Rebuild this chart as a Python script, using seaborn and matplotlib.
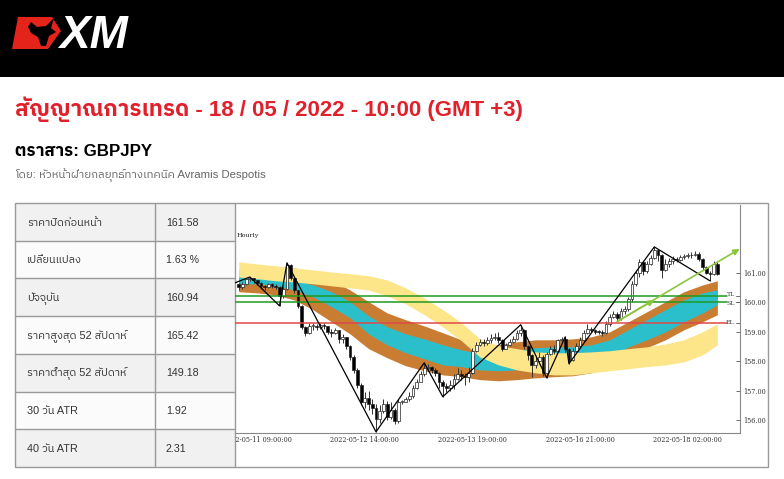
import numpy as np
import seaborn as sns
import matplotlib.pyplot as plt
from matplotlib import font_manager
from matplotlib.ft2font import FT2Font
from matplotlib.patches import Rectangle, Polygon
from matplotlib.transforms import Bbox, TransformedBbox

sns.set_theme(style="white")


# find an installed family that can draw Thai
def thai_family():
    found = []
    for f in font_manager.fontManager.ttflist:
        try:
            if FT2Font(f.fname).get_char_index(ord("ส")):
                found.append(f.name)
        except Exception:
            continue
    for name in found:
        if "Thai" in name and "Serif" not in name:
            return name
    return found[0] if found else None


thai = thai_family()
families = ["Liberation Sans"] + ([thai] if thai else []) + ["DejaVu Sans"]
plt.rcParams["font.family"] = families

# ---- text content ----
title = "สัญญาณการเทรด - 18 / 05 / 2022 - 10:00 (GMT +3)"
instrument = "ตราสาร: GBPJPY"
author = "โดย: หัวหน้าฝ่ายกลยุทธ์ทางเทคนิค Avramis Despotis"
row_labels = ["ราคาปิดก่อนหน้า", "เปลี่ยนแปลง", "ปัจจุบัน", "ราคาสูงสุด 52 สัปดาห์",
              "ราคาต่ำสุด 52 สัปดาห์", "30 วัน ATR", "40 วัน ATR"]
row_values = ["161.58", "1.63 %", "160.94", "165.42", "149.18", "1.92", "2.31"]

# ---- hourly candles (bar index 0..129) ----
first_open = 160.62
close = [160.50, 160.62, 160.78, 160.80, 160.74, 160.66, 160.55, 160.50, 160.62, 160.55,
         160.52, 160.22, 160.45, 161.25, 160.80, 160.40, 159.85, 159.15, 158.95, 159.20,
         159.20, 159.15, 159.22, 159.18, 159.00, 158.95, 159.05, 158.75, 158.80, 158.50,
         158.15, 157.70, 157.20, 156.60, 156.75, 156.55, 156.40, 156.05, 156.30, 156.55,
         156.10, 156.35, 155.95, 156.60, 156.62, 156.70, 156.80, 157.10, 157.30, 157.55,
         157.75, 157.80, 157.70, 157.60, 157.30, 157.15, 157.10, 157.20, 157.40, 157.55,
         157.50, 157.45, 157.60, 158.35, 158.55, 158.65, 158.60, 158.70, 158.78, 158.82,
         158.70, 158.42, 158.55, 158.65, 158.75, 158.95, 159.05, 158.50, 158.20, 157.85,
         158.00, 158.15, 157.60, 158.25, 158.40, 158.35, 158.70, 158.75, 158.40, 158.05,
         158.35, 158.50, 158.70, 158.95, 159.10, 159.05, 159.00, 158.98, 158.95, 159.25,
         159.50, 159.60, 159.45, 159.70, 159.75, 160.10, 160.60, 161.00, 161.35, 161.05,
         161.30, 161.50, 161.75, 161.60, 161.10, 161.30, 161.40, 161.45, 161.42, 161.52,
         161.55, 161.58, 161.60, 161.62, 161.45, 161.20, 161.00, 160.95, 161.30, 160.94]
high = [160.65, 160.68, 160.82, 160.85, 160.82, 160.76, 160.68, 160.58, 160.66, 160.66,
        160.62, 160.55, 160.50, 161.33, 161.30, 160.85, 160.40, 159.90, 159.20, 159.30,
        159.28, 159.25, 159.30, 159.28, 159.20, 159.10, 159.12, 159.05, 158.90, 158.82,
        158.55, 158.20, 157.75, 157.25, 156.95, 157.00, 156.70, 156.55, 156.50, 156.70,
        156.65, 156.60, 156.40, 156.70, 156.68, 156.78, 156.95, 157.20, 157.40, 157.65,
        157.94, 157.90, 157.82, 157.75, 157.62, 157.35, 157.25, 157.35, 157.55, 157.75,
        157.70, 157.60, 157.80, 158.45, 158.65, 158.75, 158.75, 158.80, 158.90, 158.95,
        159.00, 158.75, 158.62, 158.75, 158.85, 159.05, 159.23, 159.10, 158.55, 158.25,
        158.15, 158.30, 158.20, 158.30, 158.50, 158.55, 158.75, 158.80, 158.82, 158.45,
        158.45, 158.60, 158.80, 159.05, 159.25, 159.15, 159.08, 159.05, 159.05, 159.35,
        159.60, 159.70, 159.65, 159.80, 159.85, 160.18, 160.70, 161.10, 161.45, 161.40,
        161.38, 161.58, 161.87, 161.80, 161.62, 161.45, 161.50, 161.55, 161.52, 161.60,
        161.62, 161.65, 161.70, 161.72, 161.68, 161.48, 161.22, 161.05, 161.38, 161.40]
low = [160.40, 160.45, 160.58, 160.70, 160.66, 160.58, 160.45, 160.42, 160.46, 160.48,
       160.45, 159.87, 160.15, 160.40, 160.75, 160.30, 159.80, 159.10, 158.85, 158.90,
       159.05, 159.05, 159.10, 159.08, 158.90, 158.82, 158.90, 158.60, 158.62, 158.40,
       158.05, 157.60, 157.10, 156.50, 156.40, 156.35, 156.20, 155.60, 155.90, 156.25,
       156.00, 156.05, 155.85, 155.90, 156.55, 156.60, 156.65, 156.75, 157.05, 157.35,
       157.50, 157.65, 157.60, 157.50, 157.10, 156.79, 156.95, 157.00, 157.05, 157.35,
       157.35, 157.20, 157.30, 157.55, 158.30, 158.50, 158.50, 158.55, 158.60, 158.70,
       158.62, 158.35, 158.40, 158.50, 158.60, 158.70, 158.85, 158.40, 158.05, 157.45,
       157.75, 157.90, 157.50, 157.43, 158.20, 158.25, 158.30, 158.60, 158.30, 157.91,
       158.00, 158.30, 158.45, 158.65, 158.90, 158.98, 158.92, 158.90, 158.85, 158.90,
       159.20, 159.45, 159.35, 159.40, 159.60, 159.70, 160.00, 160.55, 160.85, 160.90,
       161.00, 161.25, 161.45, 161.40, 160.82, 161.05, 161.20, 161.30, 161.35, 161.40,
       161.45, 161.50, 161.50, 161.55, 161.40, 161.10, 160.95, 160.72, 160.90, 160.90]

# ---- bands, sampled every 5 bars ----
band_bar = [0, 5, 10, 15, 20, 25, 30, 35, 40, 45, 50, 55, 60, 65, 70, 75, 80, 85, 90,
            95, 100, 105, 110, 115, 120, 125, 129]
yellow_top = [161.36, 161.29, 161.23, 161.16, 161.09, 161.02, 160.96, 160.89, 160.75,
              160.48, 160.14, 159.74, 159.30, 158.75, 158.52, 158.42, 158.31, 158.28,
              158.28, 158.31, 158.35, 158.42, 158.48, 158.58, 158.72, 158.99, 159.26]
yellow_bot = [160.85, 160.79, 160.72, 160.68, 160.62, 160.55, 160.48, 160.41, 160.21,
              159.94, 159.57, 159.16, 158.69, 158.14, 157.87, 157.70, 157.60, 157.53,
              157.53, 157.60, 157.67, 157.74, 157.81, 157.87, 157.97, 158.21, 158.55]
brown_top = [161.09, 161.09, 161.16, 161.16, 161.02, 160.75, 160.41, 160.01, 159.63,
             159.40, 159.19, 158.96, 158.72, 158.58, 158.55, 158.65, 158.72, 158.72,
             158.75, 158.82, 158.99, 159.33, 159.67, 160.01, 160.35, 160.58, 160.72]
cyan_top = [160.85, 160.89, 160.85, 160.75, 160.58, 160.35, 160.01, 159.53, 159.16,
            158.92, 158.75, 158.55, 158.38, 158.25, 158.18, 158.35, 158.45, 158.48,
            158.48, 158.55, 158.72, 159.06, 159.40, 159.74, 160.07, 160.31, 160.41]
cyan_bot = [160.62, 160.62, 160.55, 160.41, 160.18, 159.84, 159.47, 158.92, 158.55,
            158.28, 158.08, 157.87, 157.81, 157.70, 157.67, 157.70, 157.77, 157.81,
            157.84, 157.94, 158.11, 158.48, 158.72, 158.99, 159.33, 159.63, 159.91]
brown_bot = [160.35, 160.31, 160.24, 160.07, 159.74, 159.33, 158.92, 158.42, 158.11,
             157.84, 157.67, 157.53, 157.47, 157.37, 157.33, 157.37, 157.43, 157.47,
             157.50, 157.60, 157.77, 158.21, 158.45, 158.72, 159.06, 159.33, 159.57]

# ---- zigzag, levels and forecast ----
zz_bar = [-1, 3, 11, 13, 37, 50, 55, 76, 83, 88, 89, 112, 127]
zz_price = [160.65, 160.85, 159.87, 161.33, 155.60, 157.94, 156.79, 159.23, 157.43,
            158.82, 157.91, 161.87, 160.72]
level_names = ["TL", "SL", "EL"]
level_prices = [160.20, 160.00, 159.29]
level_colors = ["#1f9a1f", "#1f9a1f", "#e04848"]
arrow_bar = [102, 112, 135]
arrow_price = [159.34, 160.07, 161.80]

x_ticks = [5, 34, 63, 92, 121]
x_tick_labels = ["2022-05-11 09:00:00", "2022-05-12 14:00:00", "2022-05-13 19:00:00",
                 "2022-05-16 21:00:00", "2022-05-18 02:00:00"]
y_ticks = [156, 157, 158, 159, 160, 161]

fig = plt.figure(figsize=(7.84, 4.79), dpi=100)
fig.patch.set_facecolor("white")

# page layer in pixel coordinates
bg = fig.add_axes([0, 0, 1, 1])
bg.set_xlim(0, 784)
bg.set_ylim(479, 0)
bg.axis("off")

bg.add_patch(Rectangle((0, 0), 784, 77, color="black", lw=0))
bg.add_patch(Polygon([(18, 17), (52, 17), (61, 31), (48, 49), (12, 49)],
                     closed=True, color="#e4231b", lw=0))
bg.add_patch(Polygon([(31, 22), (37, 27), (46, 26), (54, 18), (51, 28), (56, 32),
                      (49, 36), (46, 46), (41, 46), (38, 37), (31, 33), (28, 27)],
                     closed=True, color="black", lw=0))
bg.text(59, 48, "XM", color="white", fontsize=33, fontweight="bold",
        fontstyle="italic", ha="left", va="baseline")

bg.text(15, 116, title, color="#e0202a", fontsize=16, fontweight="bold", va="baseline")
bg.text(15, 155.5, instrument, color="black", fontsize=12.2, fontweight="bold", va="baseline")
bg.text(15, 178.5, author, color="#666666", fontsize=8.2, va="baseline")

# table
row_h = 37.7
for k, (lab, val) in enumerate(zip(row_labels, row_values)):
    y0 = 203 + k * row_h
    bg.add_patch(Rectangle((15, y0), 220, row_h, color="#f1f1f1" if k % 2 == 0 else "#fbfbfb", lw=0))
    bg.text(27, y0 + row_h / 2 + 3.8, lab, color="#333333", fontsize=7.8, va="baseline")
    bg.text(166, y0 + row_h / 2 + 3.8, val, color="#333333", fontsize=7.7, va="baseline")
    if k > 0:
        bg.plot([15, 235], [y0, y0], color="#9a9a9a", lw=1)
bg.add_patch(Rectangle((15, 203), 753, 264, fill=False, ec="#9a9a9a", lw=1))
bg.plot([155, 155], [203, 467], color="#9a9a9a", lw=1)
bg.plot([235, 235], [203, 467], color="#9a9a9a", lw=1)

# chart
ax = fig.add_axes([235 / 784, 1 - 433 / 479, 505 / 784, 228 / 479])
ax.set_facecolor("none")
ax.set_xlim(-1.0, 135.1)
ax.set_ylim(155.56, 163.29)

ax.fill_between(band_bar, brown_top, brown_bot, color="#c97d33", lw=0, zorder=1)
ax.fill_between(band_bar, cyan_top, cyan_bot, color="#2bbfcb", lw=0, zorder=1.1)
ax.fill_between(band_bar, yellow_top, yellow_bot, color="#fde68a", lw=0, zorder=1.2)

bars = np.arange(len(close))
opens = np.array([first_open] + close[:-1])
closes = np.array(close)
up = closes >= opens
ax.vlines(bars, low, high, color="#333333", lw=0.7, zorder=2)
body = np.where(np.abs(closes - opens) < 0.03, 0.03, closes - opens)
ax.bar(bars, body, bottom=opens, width=0.75,
       color=np.where(up, "white", "black"), edgecolor="#222222", lw=0.5, zorder=2.1)

label_offsets = [0.05, -0.05, 0.0]
for name, price, col, off in zip(level_names, level_prices, level_colors, label_offsets):
    ax.plot([-1.0, 131.6], [price, price], color=col, lw=1.1, zorder=3)
    ax.plot([133.9, 135.1], [price, price], color="#555555", lw=0.6, zorder=3)
    ax.text(133.7, price + off, name, fontsize=4.5, family="DejaVu Serif", color="#444444",
            ha="right", va="center", zorder=3)

sns.lineplot(x=zz_bar, y=zz_price, sort=False, color="black", lw=0.9, ax=ax, zorder=4)

for end in (1, 2):
    ax.annotate("", xy=(arrow_bar[end], arrow_price[end]),
                xytext=(arrow_bar[0], arrow_price[0]),
                arrowprops=dict(arrowstyle="-|>", color="#8cc63e", lw=1.2,
                                mutation_scale=9, shrinkA=0, shrinkB=0), zorder=5)

ax.text(-0.6, 162.25, "Hourly", fontsize=4.6, family="DejaVu Serif", color="#222222",
        ha="left", va="center")

ax.yaxis.tick_right()
ax.set_yticks(y_ticks)
ax.set_yticklabels([f"{v:.2f}" for v in y_ticks])
ax.set_xticks(x_ticks)
ax.set_xticklabels(x_tick_labels)
ax.tick_params(axis="both", direction="in", length=3, width=0.6, color="#555555",
               labelsize=4.7, labelcolor="#333333", pad=2.5)
for lab in ax.get_xticklabels() + ax.get_yticklabels():
    lab.set_family("DejaVu Serif")
clip = TransformedBbox(Bbox([[236 / 784, 0], [1, 1]]), fig.transFigure)
for lab in ax.get_xticklabels():
    lab.set_clip_box(clip)
    lab.set_clip_on(True)
for side in ("top", "left"):
    ax.spines[side].set_visible(False)
for side in ("bottom", "right"):
    ax.spines[side].set_color("#888888")
    ax.spines[side].set_linewidth(0.8)
ax.set_xlabel("")
ax.set_ylabel("")

fig.savefig("out.png", dpi=100)
